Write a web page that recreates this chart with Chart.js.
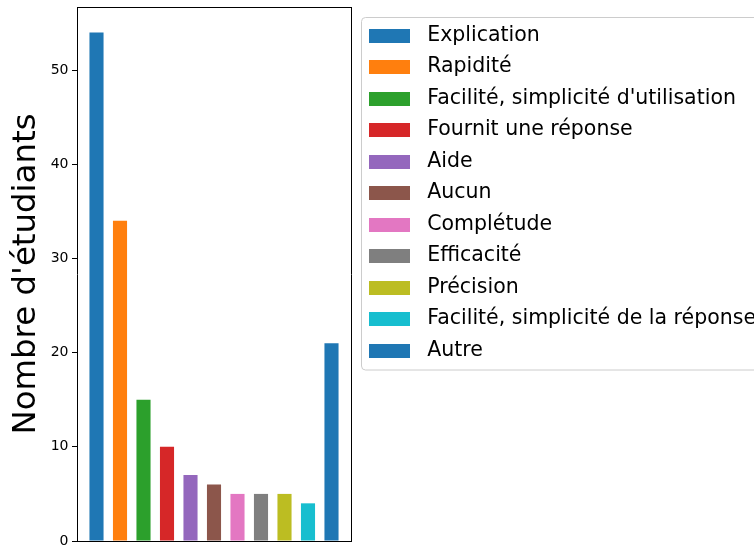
<!DOCTYPE html>
<html>
<head>
<meta charset="utf-8">
<script src="https://cdn.jsdelivr.net/npm/chart.js@4/dist/chart.umd.min.js"></script>
<style>
  html, body { margin: 0; padding: 0; background: #fff; overflow: hidden; }
  #wrap { width: 754px; height: 546px; }
</style>
</head>
<body>
<div id="wrap"><canvas id="reasons"></canvas></div>
<script>
var categories = ["Explication", "Rapidité", "Facilité, simplicité d'utilisation", "Fournit une réponse", "Aide", "Aucun", "Complétude", "Efficacité", "Précision", "Facilité, simplicité de la réponse", "Autre"];
var counts = [54, 34, 15, 10, 7, 6, 5, 5, 5, 4, 21];
var colors = ["#1f77b4", "#ff7f0e", "#2ca02c", "#d62728", "#9467bd", "#8c564b", "#e377c2", "#7f7f7f", "#bcbd22", "#17becf", "#1f77b4"];
var yTitle = "Nombre d'étudiants";

var FONT = "'DejaVu Sans', 'Liberation Sans', sans-serif";
var LEGEND_WIDTH = 396;

// legend swatch: wide patch with a little room before the label, like matplotlib
function swatch(color) {
  var c = document.createElement('canvas');
  c.width = 48; c.height = 14;
  var g = c.getContext('2d');
  g.fillStyle = color;
  g.fillRect(0, 0, 41, 14);
  return c;
}
var swatches = colors.map(swatch);

var datasets = categories.map(function (name, i) {
  return {
    label: name,
    data: [{x: i, y: counts[i]}],
    backgroundColor: colors[i],
    borderWidth: 0,
    grouped: false,
    barPercentage: 0.6,
    categoryPercentage: 1
  };
});

var legendFrame = {
  id: 'legendFrame',
  beforeLayout: function (chart) {
    var lg = chart.legend;
    if (lg && !lg.__wide) {
      var fit = lg.fit;
      lg.fit = function () { fit.call(this); this.width = LEGEND_WIDTH; };
      lg.__wide = true;
    }
  },
  afterDraw: function (chart) {
    var boxes = chart.legend.legendHitBoxes;
    if (!boxes || !boxes.length) return;
    var first = boxes[0], last = boxes[boxes.length - 1];
    var l = first.left - 8, t = first.top - 8.5, b = last.top + last.height + 8.5, r = chart.width + 10;
    var ctx = chart.ctx;
    ctx.save();
    ctx.strokeStyle = '#cccccc';
    ctx.lineWidth = 1;
    ctx.beginPath();
    ctx.roundRect(Math.round(l) + 0.5, Math.round(t) + 0.5, r - l, b - t, 4);
    ctx.stroke();
    ctx.restore();
  }
};

var hideWidth = function (w) { return function (s) { s.width = w; }; };
var hideHeight = function (s) { s.height = 0; };

var ctx = document.getElementById('reasons').getContext('2d');
var chart = new Chart(ctx, {
  type: 'bar',
  data: { datasets: datasets },
  plugins: [legendFrame],
  options: {
    responsive: true,
    maintainAspectRatio: false,
    animation: false,
    layout: { padding: { left: 0, right: 0, top: 7, bottom: 5 } },
    plugins: {
      tooltip: { enabled: false },
      legend: {
        position: 'right',
        align: 'start',
        title: { display: true, text: '', font: { size: 1, lineHeight: 1 }, padding: { top: 0, bottom: 6.3 } },
        labels: {
          color: '#000',
          font: { family: FONT, size: 20.5 },
          usePointStyle: true,
          pointStyleWidth: 48,
          boxHeight: 14,
          padding: 11,
          generateLabels: function (chart) {
            return Chart.defaults.plugins.legend.labels.generateLabels(chart).map(function (it, i) {
              it.pointStyle = swatches[i];
              return it;
            });
          }
        }
      }
    },
    scales: {
      x: {
        type: 'linear',
        position: 'bottom',
        offset: false,
        min: -0.83,
        max: 10.83,
        ticks: { display: false },
        grid: { display: false, offset: false },
        border: { display: true, color: '#000', width: 1 },
        afterFit: hideHeight
      },
      x2: {
        type: 'linear',
        position: 'top',
        offset: false,
        ticks: { display: false },
        grid: { display: false },
        border: { display: true, color: '#000', width: 1 },
        afterFit: hideHeight
      },
      y: {
        position: 'left',
        min: 0,
        max: 56.7,
        ticks: {
          stepSize: 10,
          includeBounds: false,
          color: '#000',
          padding: 3.5,
          font: { family: FONT, size: 14 }
        },
        grid: { display: true, drawOnChartArea: false, drawTicks: true, tickLength: 5, color: '#000', lineWidth: 1 },
        border: { display: true, color: '#000', width: 1 },
        title: {
          display: true,
          text: yTitle,
          color: '#000',
          font: { family: FONT, size: 32.4 },
          padding: { top: 7.5, bottom: 0 }
        },
        afterFit: function (s) { s.width = 77; s.paddingTop = 0; s.paddingBottom = 0; }
      },
      y2: {
        type: 'linear',
        position: 'right',
        ticks: { display: false },
        grid: { display: false },
        border: { display: true, color: '#000', width: 1 },
        afterFit: hideWidth(7)
      }
    }
  }
});
</script>
</body>
</html>
